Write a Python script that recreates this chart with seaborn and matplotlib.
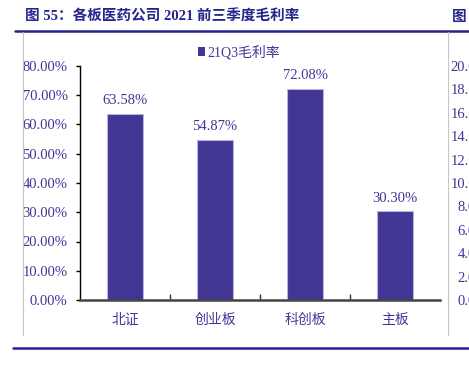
import numpy as np
import pandas as pd
import seaborn as sns
import matplotlib.pyplot as plt
from matplotlib.lines import Line2D
from matplotlib.patches import Patch
from matplotlib.ticker import FuncFormatter, MultipleLocator, FixedLocator

boards = ["北证", "创业板", "科创板", "主板"]
gross_margin = [63.58, 54.87, 72.08, 30.30]
series_name = "21Q3毛利率"
title_text = "图 55：各板医药公司 2021 前三季度毛利率"
next_title = "图 5"
next_ticks = [0, 2, 4, 6, 8, 10, 12, 14, 16, 18, 20]

bar_color = "#423695"
text_color = "#3d3798"
navy = "#26248c"

sns.set_theme(style="white")
plt.rcParams["font.family"] = ["Liberation Serif", "Noto Sans CJK SC", "DejaVu Sans"]

W, H = 469, 365
fig = plt.figure(figsize=(W / 100, H / 100), dpi=100)

def fx(px):
    return px / W

def fy(py):
    return 1 - py / H

df = pd.DataFrame({"board": boards, "margin": gross_margin})

ax = fig.add_axes([fx(80), fy(300), fx(360), (300 - 66) / H])
sns.barplot(data=df, x="board", y="margin", color=bar_color, width=0.4,
            saturation=1, edgecolor="#b9b3e0", linewidth=0.8, ax=ax)
ax.set_xlim(-0.5, 3.5)
ax.set_ylim(0, 80)
ax.set_xlabel("")
ax.set_ylabel("")
ax.yaxis.set_major_locator(MultipleLocator(10))
ax.yaxis.set_major_formatter(FuncFormatter(lambda v, p: f"{v:.2f}%"))
ax.tick_params(axis="y", direction="out", length=3, width=1, color="black",
               labelsize=10.5, labelcolor=text_color, pad=6, left=True)
ax.tick_params(axis="x", which="major", length=0, labelsize=10,
               labelcolor=text_color, pad=9)
ax.xaxis.set_minor_locator(FixedLocator([0.5, 1.5, 2.5]))
ax.tick_params(axis="x", which="minor", direction="in", length=4, width=1,
               color="#333333", bottom=True)
for lab in ax.get_xticklabels():
    lab.set_family(["Noto Sans CJK SC"])
for s in ["top", "right"]:
    ax.spines[s].set_visible(False)
ax.spines["left"].set_color("black")
ax.spines["left"].set_linewidth(1)
ax.spines["bottom"].set_color("#444444")
ax.spines["bottom"].set_linewidth(1.8)

for i, v in enumerate(gross_margin):
    ax.text(i, v + 2.3, f"{v:.2f}%", ha="center", va="bottom",
            fontsize=10.5, color=text_color)

fig.legend(handles=[Patch(facecolor=bar_color, edgecolor="none", label=series_name)],
           loc="center", bbox_to_anchor=(fx(239), fy(52)), frameon=False,
           handlelength=0.55, handleheight=0.55, handletextpad=0.15,
           labelcolor=text_color, prop={"family": ["Liberation Serif", "Noto Sans CJK SC"], "size": 10})

# partial neighbouring chart on the right edge
ax2 = fig.add_axes([fx(508), fy(300), 0.3, (300 - 66) / H])
ax2.set_ylim(0, 20)
ax2.yaxis.set_major_locator(FixedLocator(next_ticks))
ax2.yaxis.set_major_formatter(FuncFormatter(lambda v, p: f"{v:.2f}%"))
ax2.tick_params(axis="y", length=3, labelsize=10.5, labelcolor=text_color, pad=6, left=True)
ax2.set_xticks([])
for s in ax2.spines.values():
    s.set_visible(False)

# title, rules and frame
fig.text(fx(25), fy(17), title_text, ha="left", va="center", fontsize=10.5,
         fontweight="bold", color=navy)
fig.text(fx(452), fy(17), next_title, ha="left", va="center", fontsize=10.5,
         fontweight="bold", color=navy)
fig.add_artist(Line2D([fx(15), 1], [fy(31), fy(31)], color=navy, lw=1.8))
fig.add_artist(Line2D([fx(13), 1], [fy(348), fy(348)], color=navy, lw=1.8))
fig.add_artist(Line2D([fx(23), fx(23)], [fy(32), fy(335)], color="#c8c8c8", lw=0.8))
fig.add_artist(Line2D([fx(448), fx(448)], [fy(32), fy(335)], color="#c8c8c8", lw=0.8))

fig.savefig("out.png", dpi=100, facecolor="white")
